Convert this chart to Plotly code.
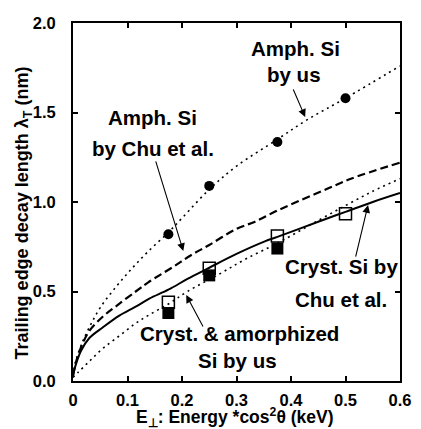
import plotly.graph_objects as go

# ---- data ----
x_ticks = [0, 0.1, 0.2, 0.3, 0.4, 0.5, 0.6]
x_ticktext = ["0", "0.1", "0.2", "0.3", "0.4", "0.5", "0.6"]
y_ticks = [0, 0.5, 1.0, 1.5, 2.0]
y_ticktext = ["0.0", "0.5", "1.0", "1.5", "2.0"]

# measured points
amph_us_x = [0.175, 0.25, 0.375, 0.5]
amph_us_y = [0.82, 1.09, 1.335, 1.58]
cryst_open_x = [0.175, 0.25, 0.375, 0.5]
cryst_open_y = [0.44, 0.63, 0.81, 0.935]
amorph_fill_x = [0.175, 0.25, 0.375]
amorph_fill_y = [0.38, 0.59, 0.74]

# fitted curves
fit_amph_us_x = [0, 0.005, 0.015, 0.03, 0.05, 0.08, 0.11, 0.14, 0.175, 0.2, 0.25, 0.3, 0.375, 0.43, 0.5, 0.6]
fit_amph_us_y = [0.03, 0.11, 0.20, 0.30, 0.41, 0.53, 0.635, 0.73, 0.83, 0.91, 1.07, 1.20, 1.35, 1.46, 1.58, 1.76]

fit_amph_chu_x = [0, 0.005, 0.015, 0.03, 0.055, 0.08, 0.115, 0.1375, 0.185, 0.215, 0.25, 0.3, 0.334, 0.37, 0.41, 0.46, 0.51, 0.6]
fit_amph_chu_y = [0.03, 0.10, 0.19, 0.28, 0.36, 0.42, 0.50, 0.55, 0.64, 0.70, 0.76, 0.85, 0.89, 0.945, 1.0, 1.065, 1.13, 1.22]

fit_cryst_chu_x = [0, 0.005, 0.015, 0.03, 0.055, 0.085, 0.115, 0.14, 0.175, 0.21, 0.245, 0.3, 0.352, 0.375, 0.45, 0.5, 0.55, 0.6]
fit_cryst_chu_y = [0.03, 0.09, 0.17, 0.24, 0.30, 0.365, 0.415, 0.46, 0.51, 0.57, 0.625, 0.71, 0.78, 0.805, 0.89, 0.945, 1.0, 1.05]

fit_cryst_us_x = [0, 0.01, 0.03, 0.054, 0.084, 0.114, 0.14, 0.175, 0.21, 0.27, 0.316, 0.375, 0.44, 0.5, 0.55, 0.6]
fit_cryst_us_y = [0.02, 0.05, 0.11, 0.18, 0.25, 0.32, 0.37, 0.43, 0.50, 0.60, 0.68, 0.77, 0.88, 0.98, 1.06, 1.13]

FONT = "Liberation Sans, Arial, sans-serif"

fig = go.Figure()

fig.add_trace(go.Scatter(x=fit_amph_us_x, y=fit_amph_us_y, mode="lines",
                         line=dict(color="black", width=1.6, dash="2px,4px", shape="spline")))
fig.add_trace(go.Scatter(x=fit_amph_chu_x, y=fit_amph_chu_y, mode="lines",
                         line=dict(color="black", width=2.2, dash="8px,4px", shape="spline")))
fig.add_trace(go.Scatter(x=fit_cryst_chu_x, y=fit_cryst_chu_y, mode="lines",
                         line=dict(color="black", width=2.0, shape="spline")))
fig.add_trace(go.Scatter(x=fit_cryst_us_x, y=fit_cryst_us_y, mode="lines",
                         line=dict(color="black", width=1.6, dash="2px,4px", shape="spline")))

fig.add_trace(go.Scatter(x=amorph_fill_x, y=amorph_fill_y, mode="markers",
                         marker=dict(symbol="square", size=12, color="black")))
fig.add_trace(go.Scatter(x=cryst_open_x, y=cryst_open_y, mode="markers",
                         marker=dict(symbol="square-open", size=12, color="black",
                                     line=dict(width=1.5, color="black"))))
fig.add_trace(go.Scatter(x=amph_us_x, y=amph_us_y, mode="markers",
                         marker=dict(symbol="circle", size=10, color="black")))

ann_font = dict(family=FONT, size=20.5, color="black", weight="bold")
texts = [
    ("Amph. Si", 0.408, 1.86),
    ("by us", 0.405, 1.71),
    ("Amph. Si", 0.146, 1.47),
    ("by Chu et al.", 0.146, 1.30),
    ("Cryst. Si by", 0.4935, 0.64),
    ("Chu et al.", 0.492, 0.455),
    ("Cryst. & amorphized", 0.305, 0.268),
    ("Si by us", 0.302, 0.117),
]
for t, xx, yy in texts:
    fig.add_annotation(x=xx, y=yy, xref="x", yref="y", text=t, showarrow=False,
                       font=ann_font, xanchor="center", yanchor="middle")

arrows = [
    ((0.403, 1.637), (0.426, 1.475)),
    ((0.151, 1.235), (0.2024, 0.726)),
    ((0.518, 0.687), (0.5414, 0.983)),
    ((0.24, 0.296), (0.2077, 0.48)),
]
for (tx, ty), (hx, hy) in arrows:
    fig.add_annotation(x=hx, y=hy, ax=tx, ay=ty, xref="x", yref="y", axref="x", ayref="y",
                       text="", showarrow=True, arrowhead=2, arrowsize=1.4, arrowwidth=1.1,
                       arrowcolor="black")

# axis titles
fig.add_annotation(x=0.494, y=-0.102, xref="paper", yref="paper", showarrow=False,
                   text="E<sub>\u22a5</sub>: Energy *cos<sup>2</sup>\u03b8 (keV)",
                   font=dict(family=FONT, size=17.5, color="black", weight="bold"),
                   xanchor="center", yanchor="middle")
fig.add_annotation(x=-0.152, y=0.469, xref="paper", yref="paper", showarrow=False,
                   text="Trailing edge decay length \u03bb<sub>T</sub> (nm)", textangle=-90,
                   font=dict(family=FONT, size=18, color="black", weight="bold"),
                   xanchor="center", yanchor="middle")

axis_common = dict(showgrid=False, zeroline=False, showline=True, linecolor="black",
                   linewidth=2, mirror="ticks", ticks="inside", ticklen=5, tickwidth=1.5,
                   tickcolor="black",
                   tickfont=dict(family=FONT, size=16.5, color="black", weight="bold"))
fig.update_xaxes(range=[0, 0.6], tickvals=x_ticks, ticktext=x_ticktext,
                 ticklabelstandoff=3, **axis_common)
fig.update_yaxes(range=[0, 2.0], tickvals=y_ticks, ticktext=y_ticktext,
                 ticklabelstandoff=12, **axis_common)

fig.update_layout(width=421, height=429, showlegend=False,
                  margin=dict(l=73, r=10, t=23, b=48),
                  paper_bgcolor="white", plot_bgcolor="white")

fig.write_html("out.html")
